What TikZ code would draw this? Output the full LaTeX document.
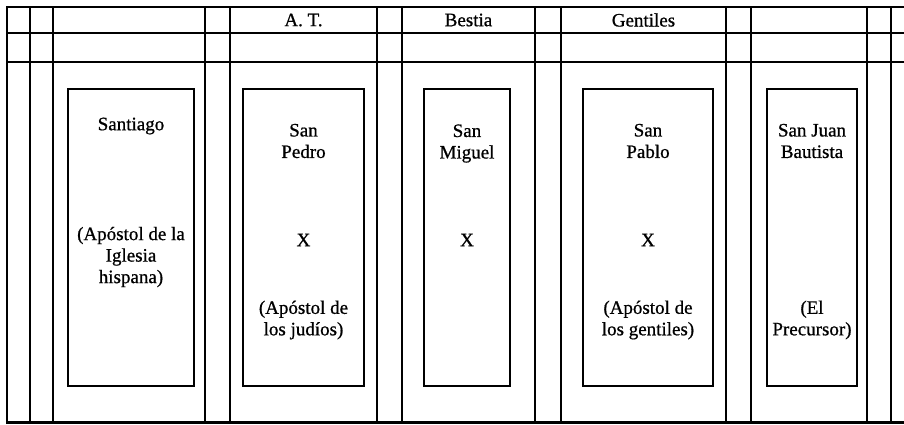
\documentclass[tikz,border=0pt]{standalone}
\usepackage{fontspec}
\setmainfont{Liberation Serif}[FakeBold=0.8]
\begin{document}
\begin{tikzpicture}[x=1pt,y=-1pt,
  gridline/.style={line width=2.8pt,line cap=rect},
  saintbox/.style={draw,line width=2.8pt,rectangle,inner sep=0pt},
  txt/.style={align=center,inner sep=0pt,font=\fontsize{19}{21.5}\selectfont},
  head/.style={inner sep=0pt,font=\fontsize{19}{21.5}\selectfont}]
\useasboundingbox (0,0) rectangle (904,424);
% horizontal rules
\foreach \y in {7,33,62,422.5} \draw[gridline] (7,\y) -- (906,\y);
% vertical rules
\foreach \x in {7,30,53,205,230,377,402,535,561,726,751,867,891} \draw[gridline] (\x,7) -- (\x,422.5);
% headers
\node[head] (hAT) at (303.5,20) {A. T.};
\node[head] (hBe) at (468.5,20) {Bestia};
\node[head] (hGe) at (643.5,20) {Gentiles};
% saint boxes
\node[saintbox,minimum width=126pt,minimum height=297pt] (bSant) at (131,237.5) {};
\node[saintbox,minimum width=121pt,minimum height=297pt] (bPed) at (303.5,237.5) {};
\node[saintbox,minimum width=86pt,minimum height=297pt] (bMig) at (467,237.5) {};
\node[saintbox,minimum width=130pt,minimum height=297pt] (bPab) at (648,237.5) {};
\node[saintbox,minimum width=90pt,minimum height=297pt] (bJua) at (812,237.5) {};
% texts
\node[txt] (tSant1) at (131,126) {Santiago};
\node[txt] (tSant2) at (131,257) {(Apóstol de la\\Iglesia\\hispana)};
\node[txt] (tPed1) at (303.5,141) {San\\Pedro};
\node[txt] (tPed2) at (303.5,240) {X};
\node[txt] (tPed3) at (303.5,320) {(Apóstol de\\los judíos)};
\node[txt] (tMig1) at (467,143.5) {San\\Miguel};
\node[txt] (tMig2) at (467,240) {X};
\node[txt] (tPab1) at (648,141) {San\\Pablo};
\node[txt] (tPab2) at (648,240) {X};
\node[txt] (tPab3) at (648,320) {(Apóstol de\\los gentiles)};
\node[txt] (tJua1) at (812,141) {San Juan\\Bautista};
\node[txt] (tJua2) at (812,320) {(El\\Precursor)};
\end{tikzpicture}
\end{document}
